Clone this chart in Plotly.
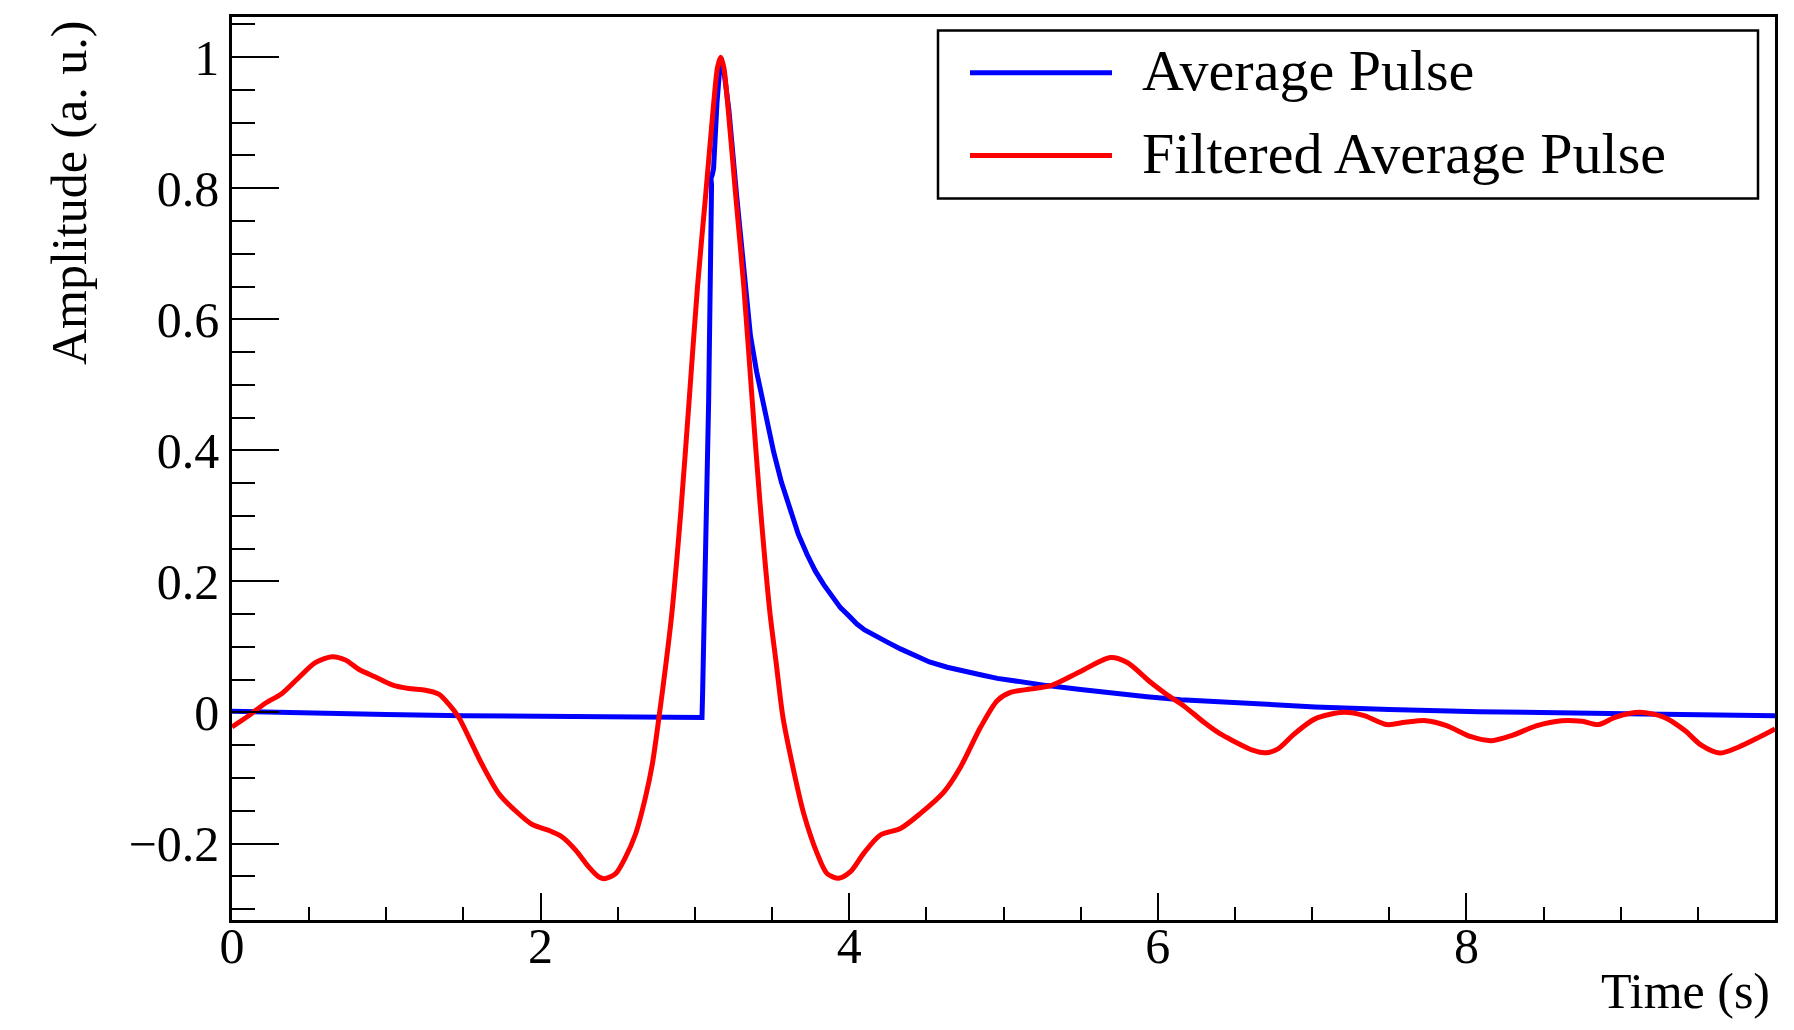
import plotly.graph_objects as go

# ---- data ----
t_avg = [0.0, 0.5, 1.0, 1.5, 2.0, 2.5, 3.0, 3.046, 3.05, 3.089, 3.108, 3.104, 3.112,
         3.121, 3.143, 3.167, 3.19, 3.22, 3.27, 3.32, 3.36, 3.40, 3.44, 3.51, 3.56,
         3.619, 3.67, 3.727, 3.78, 3.835, 3.89, 3.943, 4.0, 4.05, 4.10, 4.159, 4.25,
         4.332, 4.418, 4.52, 4.635, 4.75, 4.851, 4.96, 5.067, 5.283, 5.5, 5.715, 5.93,
         6.148, 6.472, 7.02, 7.5, 8.08, 9.15, 10.0]
a_avg = [0.002, -0.001, -0.003, -0.005, -0.006, -0.007, -0.0075, -0.0075, 0.03, 0.474,
         0.805, 0.815, 0.82, 0.83, 0.93, 1.0, 0.975, 0.92, 0.79, 0.67, 0.575, 0.52,
         0.474, 0.398, 0.352, 0.307, 0.272, 0.241, 0.216, 0.195, 0.176, 0.16, 0.147,
         0.135, 0.126, 0.118, 0.107, 0.097, 0.087, 0.077, 0.069, 0.062, 0.0575, 0.052,
         0.048, 0.041, 0.035, 0.029, 0.024, 0.0195, 0.015, 0.0085, 0.0045, 0.0012,
         -0.0023, -0.0049]

t_filt = [0.0, 0.108, 0.216, 0.324, 0.432, 0.54, 0.648, 0.735, 0.821, 0.93, 1.038,
          1.146, 1.254, 1.34, 1.405, 1.47, 1.535, 1.62, 1.73, 1.837, 1.946, 2.054,
          2.14, 2.227, 2.313, 2.378, 2.42, 2.486, 2.55, 2.616, 2.68, 2.724, 2.767,
          2.81, 2.85, 2.91, 2.962, 3.017, 3.07, 3.122, 3.147, 3.167, 3.187, 3.212,
          3.264, 3.317, 3.372, 3.422, 3.485, 3.527, 3.571, 3.632, 3.705, 3.792, 3.856,
          3.932, 4.008, 4.094, 4.202, 4.332, 4.462, 4.613, 4.721, 4.851, 4.959, 5.045,
          5.175, 5.305, 5.499, 5.694, 5.802, 5.953, 6.06, 6.167, 6.299, 6.40, 6.486,
          6.619, 6.699, 6.779, 6.885, 7.019, 7.205, 7.338, 7.485, 7.604, 7.738, 7.871,
          8.03, 8.164, 8.297, 8.457, 8.617, 8.75, 8.856, 8.963, 9.123, 9.283, 9.416,
          9.522, 9.642, 9.762, 9.895, 10.0]
a_filt = [-0.022, -0.005, 0.014, 0.029, 0.053, 0.076, 0.085, 0.080, 0.066, 0.054, 0.042,
          0.0365, 0.034, 0.028, 0.0127, -0.0076, -0.038, -0.079, -0.124, -0.150, -0.171,
          -0.180, -0.190, -0.210, -0.236, -0.251, -0.2535, -0.246, -0.221, -0.185,
          -0.129, -0.079, -0.008, 0.070, 0.15, 0.31, 0.474, 0.65, 0.79, 0.93, 0.985,
          1.0, 0.985, 0.93, 0.79, 0.65, 0.474, 0.32, 0.155, 0.075, -0.008, -0.08,
          -0.154, -0.215, -0.2457, -0.253, -0.243, -0.215, -0.187, -0.177, -0.154,
          -0.1215, -0.0835, -0.0227, 0.018, 0.0306, 0.0357, 0.0408, 0.0626, 0.0838,
          0.0762, 0.046, 0.027, 0.0104, -0.015, -0.032, -0.043, -0.058, -0.0616,
          -0.0555, -0.0327, -0.0098, 0.0002, -0.0048, -0.0185, -0.015, -0.0125, -0.020,
          -0.037, -0.043, -0.035, -0.020, -0.0125, -0.0135, -0.0185, -0.0074, 0.0002,
          -0.0074, -0.0276, -0.050, -0.062, -0.053, -0.038, -0.025]

series_names = ["Average Pulse", "Filtered Average Pulse"]
series_colors = ["#0000ff", "#ff0000"]
x_tick_vals = [0, 2, 4, 6, 8]
y_tick_vals = [-0.2, 0, 0.2, 0.4, 0.6, 0.8, 1.0]
y_tick_text = ["\u22120.2", "0", "0.2", "0.4", "0.6", "0.8", "1"]
x_title = "Time (s)"
y_title = "Amplitude (a. u.)"

FONT = "Liberation Serif, Times New Roman, serif"
OFF = 8  # default page body margin
W, H = 1794 - 2 * OFF, 1030 - 2 * OFF
# plot frame in page pixels: x 232..1775, y 14..920
ML, MT = 232 - OFF, 14 - OFF
MR = W - (1775 - OFF)
MB = H - (920 - OFF)
PW, PH = W - ML - MR, H - MT - MB


def px(xf):
    return (xf - OFF - ML) / PW


def py(yf):
    return (H - MB - (yf - OFF)) / PH


LW = 5

fig = go.Figure()
fig.add_trace(go.Scatter(x=t_avg, y=a_avg, mode="lines", name=series_names[0],
                         line=dict(color=series_colors[0], width=LW)))
fig.add_trace(go.Scatter(x=t_filt, y=a_filt, mode="lines", name=series_names[1],
                         line=dict(color=series_colors[1], width=LW, shape="spline",
                                   smoothing=0.8)))

axis_common = dict(showline=True, linecolor="black", linewidth=2.5, mirror=True,
                   showgrid=False, zeroline=False, ticks="inside", tickcolor="black",
                   tickwidth=2, tickfont=dict(family=FONT, size=50, color="black"))

fig.update_xaxes(range=[0, 10], tickmode="array", tickvals=x_tick_vals,
                 ticktext=[str(v) for v in x_tick_vals], ticklen=27,
                 ticklabelstandoff=-20,
                 minor=dict(tickmode="linear", tick0=0, dtick=0.5, ticklen=13,
                            tickwidth=2, tickcolor="black", ticks="inside"),
                 **axis_common)
fig.update_yaxes(range=[-0.3167, 1.0613], tickmode="array", tickvals=y_tick_vals,
                 ticktext=y_tick_text, ticklen=47,
                 minor=dict(tickmode="linear", tick0=0, dtick=0.05, ticklen=23,
                            tickwidth=2, tickcolor="black", ticks="inside"),
                 **axis_common)

# custom legend (ROOT style)
shapes = [dict(type="rect", xref="paper", yref="paper", x0=px(938), x1=px(1758),
               y0=py(196), y1=py(27.5), line=dict(color="black", width=2.5),
               fillcolor="white", layer="above")]
annotations = []
for i, (nm, col) in enumerate(zip(series_names, series_colors)):
    yc = [70, 153][i]
    shapes.append(dict(type="line", xref="paper", yref="paper", x0=px(970), x1=px(1112),
                       y0=py(yc), y1=py(yc), line=dict(color=col, width=LW),
                       layer="above"))
    annotations.append(dict(text=nm, xref="paper", yref="paper", x=px(1140), y=py(yc - 2),
                            xanchor="left", yanchor="middle", showarrow=False,
                            font=dict(family=FONT, size=58, color="black")))

annotations.append(dict(text=y_title, xref="paper", yref="paper", x=px(69), y=py(16),
                        xanchor="center", yanchor="top", textangle=-90, showarrow=False,
                        font=dict(family=FONT, size=50, color="black")))
annotations.append(dict(text=x_title, xref="paper", yref="paper", x=px(1772), y=py(991),
                        xanchor="right", yanchor="middle", showarrow=False,
                        font=dict(family=FONT, size=50, color="black")))

fig.update_layout(width=W, height=H, margin=dict(l=ML, r=MR, t=MT, b=MB),
                  plot_bgcolor="white", paper_bgcolor="white", showlegend=False,
                  shapes=shapes, annotations=annotations,
                  font=dict(family=FONT, color="black"))

fig.write_html("out.html")
